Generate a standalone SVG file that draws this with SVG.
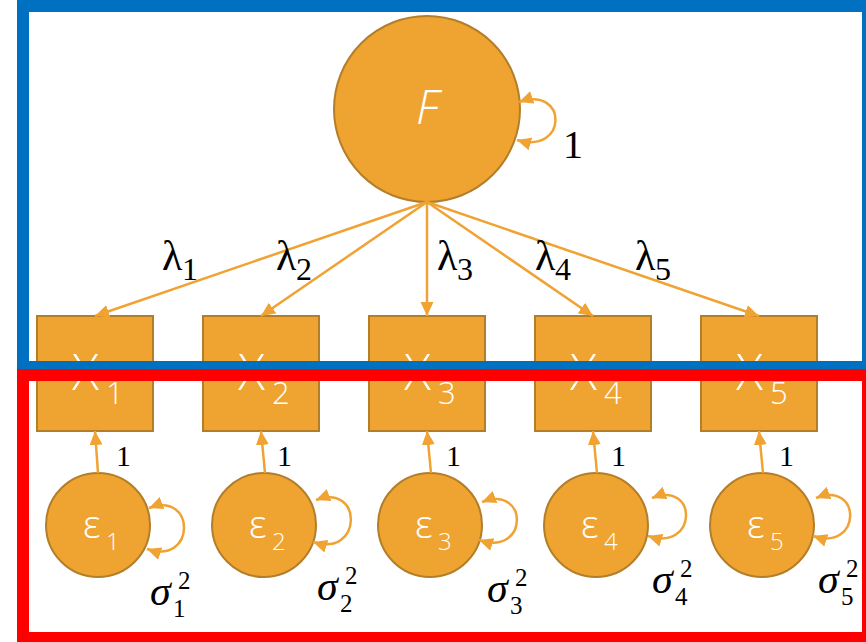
<svg xmlns="http://www.w3.org/2000/svg" width="866" height="642" viewBox="0 0 866 642">
<style>
.node{fill:#EFA331;stroke:#B27E2A;stroke-width:2}
.lt{font-family:"Open Sans","Liberation Sans",sans-serif;font-weight:300;fill:#FFFFFF}
.edge{fill:none;stroke:#F0A232;stroke-width:2.5}
.lbl{font-family:"Liberation Serif","Times New Roman",serif;fill:#000000}
.sig{font-family:"Liberation Serif","Times New Roman",serif;fill:#000000;font-size:42px}
.sig .g{font-style:italic}
.sig .d{font-size:25px}
.frame{fill:none;stroke-width:12}
</style>
<defs>
<marker id="ah" markerUnits="userSpaceOnUse" markerWidth="16" markerHeight="14" refX="14" refY="6.5" orient="auto-start-reverse" viewBox="0 0 16 14">
<path d="M0,0 L14,6.5 L0,13 z" fill="#F0A232"/>
</marker>
</defs>

<g id="F">
<circle class="node" cx="427" cy="109" r="93"/>
<text class="lt" x="416" y="124" font-size="47" font-style="italic">F</text>
</g>

<g id="X1"><rect class="node" x="37" y="316" width="116" height="115"/><text class="lt" x="72" y="390" font-size="50">X<tspan x="106" y="404" font-size="31">1</tspan></text></g>
<g id="X2"><rect class="node" x="203" y="316" width="116" height="115"/><text class="lt" x="238" y="390" font-size="50">X<tspan x="272" y="404" font-size="31">2</tspan></text></g>
<g id="X3"><rect class="node" x="369" y="316" width="116" height="115"/><text class="lt" x="404" y="390" font-size="50">X<tspan x="438" y="404" font-size="31">3</tspan></text></g>
<g id="X4"><rect class="node" x="535" y="316" width="116" height="115"/><text class="lt" x="570" y="390" font-size="50">X<tspan x="604" y="404" font-size="31">4</tspan></text></g>
<g id="X5"><rect class="node" x="701" y="316" width="116" height="115"/><text class="lt" x="736" y="390" font-size="50">X<tspan x="770" y="404" font-size="31">5</tspan></text></g>

<g id="e1"><circle class="node" cx="98" cy="525" r="52"/><text class="lt" x="83" y="538" font-size="39">ε<tspan x="106" y="550" font-size="24">1</tspan></text></g>
<g id="e2"><circle class="node" cx="264" cy="525" r="52"/><text class="lt" x="249" y="538" font-size="39">ε<tspan x="272" y="550" font-size="24">2</tspan></text></g>
<g id="e3"><circle class="node" cx="430" cy="525" r="52"/><text class="lt" x="415" y="538" font-size="39">ε<tspan x="438" y="550" font-size="24">3</tspan></text></g>
<g id="e4"><circle class="node" cx="596" cy="525" r="52"/><text class="lt" x="581" y="538" font-size="39">ε<tspan x="604" y="550" font-size="24">4</tspan></text></g>
<g id="e5"><circle class="node" cx="762" cy="525" r="52"/><text class="lt" x="747" y="538" font-size="39">ε<tspan x="770" y="550" font-size="24">5</tspan></text></g>

<g id="connectors">
<path class="edge" marker-end="url(#ah)" d="M427,202 L95,316"/>
<path class="edge" marker-end="url(#ah)" d="M427,202 L261,316"/>
<path class="edge" marker-end="url(#ah)" d="M427,202 L427,316"/>
<path class="edge" marker-end="url(#ah)" d="M427,202 L593,316"/>
<path class="edge" marker-end="url(#ah)" d="M427,202 L759,316"/>

<path class="edge" marker-start="url(#ah)" marker-end="url(#ah)" d="M519,102 C568,85 568,155 517,140"/>

<path class="edge" marker-end="url(#ah)" d="M98,473 L95,431"/>
<path class="edge" marker-end="url(#ah)" d="M265,473 L261,431"/>
<path class="edge" marker-end="url(#ah)" d="M431,473 L427,431"/>
<path class="edge" marker-end="url(#ah)" d="M597,473 L593,431"/>
<path class="edge" marker-end="url(#ah)" d="M763,473 L759,431"/>

<path class="edge" marker-start="url(#ah)" marker-end="url(#ah)" d="M149,508 C196,490 196,566 147,549"/>
<path class="edge" marker-start="url(#ah)" marker-end="url(#ah)" d="M316,500 C363,482 363,558 313,542"/>
<path class="edge" marker-start="url(#ah)" marker-end="url(#ah)" d="M482,502 C529,484 529,557 479,540"/>
<path class="edge" marker-start="url(#ah)" marker-end="url(#ah)" d="M652,498 C698,480 698,552 648,536"/>
<path class="edge" marker-start="url(#ah)" marker-end="url(#ah)" d="M816,498 C862,480 862,552 813,536"/>
</g>

<g id="labels">
<text class="lbl" x="563" y="158" font-size="40">1</text>
<text class="lbl" x="162" y="270" font-size="42">λ<tspan x="182" y="280" font-size="32">1</tspan></text>
<text class="lbl" x="276" y="270" font-size="42">λ<tspan x="296" y="280" font-size="32">2</tspan></text>
<text class="lbl" x="437" y="270" font-size="42">λ<tspan x="457" y="280" font-size="32">3</tspan></text>
<text class="lbl" x="535" y="270" font-size="42">λ<tspan x="555" y="280" font-size="32">4</tspan></text>
<text class="lbl" x="635" y="270" font-size="42">λ<tspan x="655" y="280" font-size="32">5</tspan></text>

<text class="lbl" x="116" y="466" font-size="30">1</text>
<text class="lbl" x="277" y="466" font-size="30">1</text>
<text class="lbl" x="446" y="466" font-size="30">1</text>
<text class="lbl" x="611" y="466" font-size="30">1</text>
<text class="lbl" x="779" y="466" font-size="30">1</text>

<text class="sig" x="150" y="605"><tspan class="g">σ</tspan><tspan class="d" x="173" y="617">1</tspan><tspan class="d" x="178" y="589">2</tspan></text>
<text class="sig" x="317" y="600"><tspan class="g">σ</tspan><tspan class="d" x="340" y="612">2</tspan><tspan class="d" x="345" y="584">2</tspan></text>
<text class="sig" x="487" y="602"><tspan class="g">σ</tspan><tspan class="d" x="510" y="614">3</tspan><tspan class="d" x="515" y="586">2</tspan></text>
<text class="sig" x="652" y="593"><tspan class="g">σ</tspan><tspan class="d" x="675" y="605">4</tspan><tspan class="d" x="680" y="577">2</tspan></text>
<text class="sig" x="818" y="593"><tspan class="g">σ</tspan><tspan class="d" x="841" y="605">5</tspan><tspan class="d" x="846" y="577">2</tspan></text>
</g>

<rect class="frame" stroke="#0070C0" x="23" y="6" width="845" height="361"/>
<rect class="frame" stroke="#FF0000" x="23" y="375" width="845" height="263"/>
</svg>
